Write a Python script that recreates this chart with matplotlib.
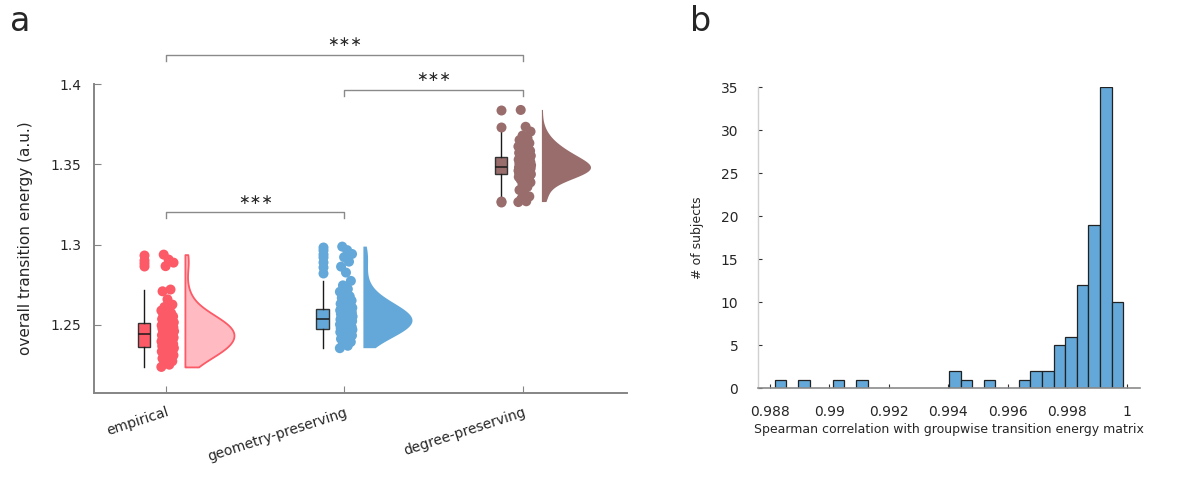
import numpy as np
import matplotlib.pyplot as plt
import matplotlib.transforms as mtransforms
from matplotlib.ticker import FuncFormatter

plt.rcParams['font.family'] = ['DejaVu Sans']

# ---- panel a: overall transition energy per subject ----
groups = ['empirical', 'geometry-preserving', 'degree-preserving']

energy_empirical = [
    1.2236, 1.2250, 1.2262, 1.2272, 1.2281, 1.2289, 1.2296, 1.2303, 1.2309, 1.2314,
    1.2319, 1.2324, 1.2328, 1.2332, 1.2336, 1.2339, 1.2342, 1.2345, 1.2348, 1.2350,
    1.2352, 1.2354, 1.2356, 1.2358, 1.2360, 1.2362, 1.2366, 1.2370, 1.2374, 1.2378,
    1.2382, 1.2386, 1.2389, 1.2392, 1.2395, 1.2398, 1.2401, 1.2404, 1.2407, 1.2410,
    1.2413, 1.2416, 1.2419, 1.2422, 1.2425, 1.2428, 1.2431, 1.2434, 1.2437, 1.2440,
    1.2444, 1.2447, 1.2450, 1.2453, 1.2456, 1.2459, 1.2462, 1.2465, 1.2468, 1.2471,
    1.2474, 1.2477, 1.2480, 1.2483, 1.2486, 1.2489, 1.2491, 1.2493, 1.2495, 1.2497,
    1.2499, 1.2501, 1.2503, 1.2505, 1.2507, 1.2510, 1.2514, 1.2518, 1.2522, 1.2526,
    1.2530, 1.2535, 1.2540, 1.2545, 1.2551, 1.2557, 1.2564, 1.2571, 1.2579, 1.2588,
    1.2598, 1.2610, 1.2625, 1.2658, 1.2708, 1.2719, 1.2865, 1.2887, 1.2906, 1.2937,
]
energy_geometry = [
    1.2353, 1.2368, 1.2381, 1.2392, 1.2402, 1.2411, 1.2419, 1.2426, 1.2432, 1.2437,
    1.2442, 1.2446, 1.2450, 1.2453, 1.2456, 1.2459, 1.2461, 1.2463, 1.2465, 1.2466,
    1.2467, 1.2468, 1.2469, 1.2470, 1.2471, 1.2474, 1.2477, 1.2480, 1.2483, 1.2486,
    1.2489, 1.2492, 1.2495, 1.2498, 1.2501, 1.2504, 1.2507, 1.2510, 1.2513, 1.2516,
    1.2518, 1.2520, 1.2522, 1.2524, 1.2526, 1.2528, 1.2530, 1.2532, 1.2533, 1.2534,
    1.2536, 1.2539, 1.2542, 1.2545, 1.2548, 1.2551, 1.2554, 1.2557, 1.2560, 1.2563,
    1.2566, 1.2569, 1.2572, 1.2575, 1.2578, 1.2581, 1.2584, 1.2587, 1.2589, 1.2591,
    1.2593, 1.2595, 1.2596, 1.2597, 1.2598, 1.2601, 1.2605, 1.2609, 1.2614, 1.2619,
    1.2624, 1.2630, 1.2636, 1.2643, 1.2650, 1.2658, 1.2667, 1.2677, 1.2690, 1.2705,
    1.2722, 1.2745, 1.2773, 1.2825, 1.2862, 1.2893, 1.2921, 1.2941, 1.2965, 1.2987,
]
energy_degree = [
    1.3265, 1.3270, 1.3285, 1.3300, 1.3318, 1.3340, 1.3360, 1.3375, 1.3388, 1.3398,
    1.3406, 1.3413, 1.3418, 1.3422, 1.3426, 1.3429, 1.3431, 1.3433, 1.3435, 1.3436,
    1.3437, 1.3438, 1.3439, 1.3440, 1.3441, 1.3443, 1.3445, 1.3447, 1.3449, 1.3451,
    1.3453, 1.3455, 1.3457, 1.3459, 1.3461, 1.3463, 1.3465, 1.3467, 1.3469, 1.3471,
    1.3472, 1.3474, 1.3475, 1.3477, 1.3478, 1.3479, 1.3480, 1.3481, 1.3482, 1.3483,
    1.3485, 1.3487, 1.3489, 1.3491, 1.3493, 1.3495, 1.3497, 1.3499, 1.3501, 1.3503,
    1.3506, 1.3509, 1.3512, 1.3515, 1.3518, 1.3521, 1.3524, 1.3527, 1.3530, 1.3533,
    1.3536, 1.3539, 1.3542, 1.3545, 1.3548, 1.3551, 1.3554, 1.3557, 1.3560, 1.3564,
    1.3568, 1.3572, 1.3576, 1.3580, 1.3585, 1.3590, 1.3595, 1.3600, 1.3606, 1.3612,
    1.3618, 1.3625, 1.3633, 1.3642, 1.3652, 1.3664, 1.3680, 1.3705, 1.3735, 1.3840,
]
energy = [energy_empirical, energy_geometry, energy_degree]

# significance brackets: (group i, group j, bracket height)
brackets = [(0, 1, 1.3203), (1, 2, 1.3967), (0, 2, 1.4184)]
sig_label = '\u2217\u2217\u2217'

# ---- panel b: per-subject similarity to the group matrix ----
hist_edges = np.linspace(0.98817, 0.99989, 31)
hist_counts = [1, 0, 1, 0, 0, 1, 0, 1, 0, 0,
               0, 0, 0, 0, 0, 2, 1, 0, 1, 0,
               0, 1, 2, 2, 5, 6, 12, 19, 35, 10]

colors = ['#FB5A66', '#63A8D8', '#986D6C']
violin_face = ['#FFBBC1', '#63A8D8', '#986D6C']
violin_edge = ['#FB5A66', 'none', 'none']
text_col = '#262626'
spine_col = '#858585'

fig = plt.figure(figsize=(11.94, 4.84), dpi=100)
ax = fig.add_axes([0.0787, 0.1886, 0.4464, 0.6372])
axb = fig.add_axes([0.6346, 0.1977, 0.3202, 0.6219])

pos = np.arange(1, 4)
box_off, box_w = -0.123, 0.07
vio_off, vio_w = 0.106, 0.55
jitter_w = 0.036

for i, vals in enumerate(energy):
    vals = np.asarray(vals)
    x0 = pos[i]

    # half violin on the right
    vp = ax.violinplot([vals], positions=[x0 + vio_off], widths=vio_w,
                       showextrema=False, points=300, bw_method=0.55)
    body = vp['bodies'][0]
    verts = body.get_paths()[0].vertices
    verts[:, 0] = np.maximum(verts[:, 0], x0 + vio_off)
    body.set_facecolor(violin_face[i])
    body.set_edgecolor(violin_edge[i])
    body.set_linewidth(1.3)
    body.set_alpha(1)
    body.set_zorder(2)

    # jittered raw points (deterministic spread)
    k = np.arange(len(vals))
    jit = ((k * 0.6180339887) % 1.0 - 0.5) * 2 * jitter_w
    ax.scatter(x0 + 0.01 + jit, vals, s=52, color=colors[i], edgecolors='none', zorder=3)

    # box on the left
    ax.boxplot([vals], positions=[x0 + box_off], widths=box_w, patch_artist=True,
               showcaps=False, manage_ticks=False,
               boxprops=dict(facecolor=colors[i], edgecolor='#333333', linewidth=1),
               medianprops=dict(color='#1a1a1a', linewidth=1.1),
               whiskerprops=dict(color='#1a1a1a', linewidth=1),
               flierprops=dict(marker='o', markersize=7.2, markerfacecolor=colors[i],
                               markeredgecolor='none'),
               zorder=4)

for g1, g2, yb in brackets:
    ax.plot([pos[g1], pos[g1], pos[g2], pos[g2]], [yb - 0.0038, yb, yb, yb - 0.0038],
            color='#8a8a8a', lw=1, clip_on=False)
    ax.text((pos[g1] + pos[g2]) / 2, yb + 0.0078, sig_label, ha='center', va='center',
            fontsize=10, color=text_col, clip_on=False)

ax.set_xlim(0.5966, 3.5826)
ax.set_ylim(1.2075, 1.4)
ax.set_yticks([1.25, 1.3, 1.35, 1.4])
ax.yaxis.set_major_formatter(FuncFormatter(lambda v, p: f'{v:g}'))
ax.set_xticks(pos)
ax.set_xticklabels(groups, rotation=18, ha='right', rotation_mode='anchor')
shift = mtransforms.ScaledTranslation(5 / 100, 0, fig.dpi_scale_trans)
for lab in ax.get_xticklabels():
    lab.set_transform(lab.get_transform() + shift)
ax.set_ylabel('overall transition energy (a.u.)', fontsize=11, color=text_col, labelpad=13)
ax.tick_params(direction='in', length=5, color=spine_col, labelcolor=text_col, labelsize=10)
ax.tick_params(axis='x', pad=9)
ax.tick_params(axis='y', pad=9)
for side in ['top', 'right']:
    ax.spines[side].set_visible(False)
for side in ['left', 'bottom']:
    ax.spines[side].set_color(spine_col)
    ax.spines[side].set_linewidth(1.4)

# histogram (only non-empty bins drawn)
counts = np.asarray(hist_counts)
lefts = hist_edges[:-1]
width = np.diff(hist_edges)
nz = counts > 0
axb.bar(lefts[nz], counts[nz], width=width[nz], align='edge',
        color='#63A8D8', edgecolor='#222222', linewidth=0.9, zorder=2)
axb.set_xlim(0.98760, 1.000454)
axb.set_ylim(0, 35)
axb.set_yticks(range(0, 36, 5))
axb.set_xticks(np.arange(0.988, 1.0001, 0.002))
axb.xaxis.set_major_formatter(FuncFormatter(lambda v, p: f'{round(v, 3):g}'))
axb.set_xlabel('Spearman correlation with groupwise transition energy matrix',
               fontsize=9, color=text_col, labelpad=3)
axb.set_ylabel('# of subjects', fontsize=9, color=text_col, labelpad=12)
axb.tick_params(direction='in', length=3, color='#333333', labelcolor=text_col, labelsize=10)
axb.tick_params(axis='y', pad=14)
axb.tick_params(axis='x', pad=12)
for side in ['top', 'right']:
    axb.spines[side].set_visible(False)
axb.spines['left'].set_color('#d0d0d0')
axb.spines['bottom'].set_color('#8a8a8a')
axb.spines['left'].set_linewidth(1)
axb.spines['bottom'].set_linewidth(1.2)

fig.text(0.008, 0.955, 'a', fontsize=24, color=text_col, va='center')
fig.text(0.578, 0.955, 'b', fontsize=24, color=text_col, va='center')

fig.savefig('out.png', dpi=100, facecolor='white')
